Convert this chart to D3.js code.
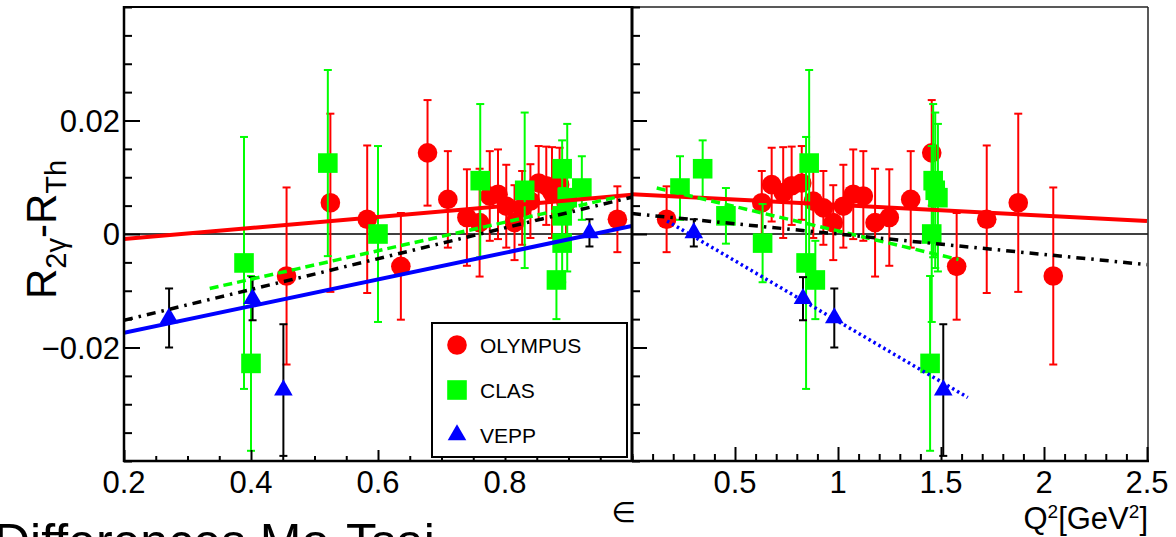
<!DOCTYPE html>
<html><head><meta charset="utf-8">
<script src="https://cdn.jsdelivr.net/npm/d3@7"></script>
<style>
html,body{margin:0;padding:0;background:#fff;overflow:hidden;}
svg{display:block;font-family:"Liberation Sans",Arial,Helvetica,sans-serif;}
</style></head><body>
<svg id="chart" width="1176" height="537"></svg>
<script>
// OLYMPUS: each bin shown against epsilon (left) and Q^2 (right)
const olyEps = [0.977, 0.896, 0.886, 0.874, 0.865, 0.853, 0.840, 0.827, 0.815, 0.802, 0.789, 0.776, 0.760, 0.740, 0.710, 0.678, 0.636, 0.583, 0.525, 0.456];
const olyQ2  = [0.168, 0.630, 0.678, 0.734, 0.775, 0.824, 0.880, 0.929, 0.977, 1.026, 1.074, 1.123, 1.180, 1.249, 1.353, 1.455, 1.576, 1.722, 1.875, 2.045];
const olyVal = [0.0026, 0.0055, 0.0087, 0.0073, 0.0085, 0.0090, 0.0058, 0.0046, 0.0020, 0.0049, 0.0070, 0.0067, 0.0020, 0.0029, 0.0061, 0.0143, -0.0057, 0.0026, 0.0055, -0.0074];
const olyErr = [0.0058, 0.0056, 0.0065, 0.0080, 0.0069, 0.0065, 0.0065, 0.0065, 0.0066, 0.0073, 0.0079, 0.0079, 0.0095, 0.0085, 0.0085, 0.0093, 0.0094, 0.0130, 0.0157, 0.0156];

// CLAS
const clasEps = [0.389, 0.400, 0.521, 0.600, 0.761, 0.831, 0.890, 0.898, 0.921, 0.890, 0.890, 0.881];
const clasQ2  = [0.845, 1.447, 0.860, 1.455, 1.462, 1.472, 0.343, 1.485, 0.233, 0.456, 0.634, 0.890];
const clasVal = [-0.0051, -0.0228, 0.0125, 0.0000, 0.0094, 0.0077, 0.0115, 0.0064, 0.0081, 0.0032, -0.0016, -0.0081];
const clasErr = [0.0222, 0.0154, 0.0164, 0.0155, 0.0135, 0.0137, 0.0050, 0.0130, 0.0056, 0.0049, 0.0069, 0.0069];

// VEPP-3
const veppEps = [0.271, 0.4025, 0.451, 0.933];
const veppQ2  = [0.982, 0.830, 1.511, 0.300];
const veppVal = [-0.0148, -0.0114, -0.0275, 0.0002];
const veppErr = [0.0052, 0.0038, 0.0116, 0.0024];

// Linear fits: [x0, y0, x1, y1]
const fitEpsOly  = [0.2, -0.0009, 1.0, 0.0069];
const fitEpsVepp = [0.2, -0.0174, 1.0, 0.0014];
const fitEpsAll  = [0.2, -0.0152, 1.0, 0.0065];
const fitEpsClas = [0.335, -0.0096, 0.98, 0.0066];
const fitQ2Oly   = [0.0, 0.0070, 2.5, 0.0023];
const fitQ2All   = [0.0, 0.0036, 2.5, -0.0054];
const fitQ2Clas  = [0.12, 0.0081, 1.585, -0.0045];
const fitQ2Vepp  = [0.17, 0.0023, 1.63, -0.0288];

// Axis ticks
const yMajor = [-0.02, 0, 0.02];
const yTickLabels = ["\u22120.02", "0", "0.02"];
const epsMajor = [0.2, 0.4, 0.6, 0.8];
const epsLabels = ["0.2", "0.4", "0.6", "0.8"];
const q2Major = [0.5, 1, 1.5, 2, 2.5];
const q2Labels = ["0.5", "1", "1.5", "2", "2.5"];

const legendNames = ["OLYMPUS", "CLAS", "VEPP"];

const RED = "#ff0000", GREEN = "#00ff00", BLUE = "#0000ff";

const svg = d3.select("#chart");
const yTop = 7, yBot = 461;
const xL = d3.scaleLinear().domain([0.2, 1.0]).range([124, 632]);
const xR = d3.scaleLinear().domain([0, 2.5]).range([632, 1147]);
const y = d3.scaleLinear().domain([-0.04, 0.04]).range([yBot, yTop]);

const defs = svg.append("defs");
defs.append("clipPath").attr("id", "clipL").append("rect")
  .attr("x", 124).attr("y", yTop).attr("width", 632 - 124).attr("height", yBot - yTop);
defs.append("clipPath").attr("id", "clipR").append("rect")
  .attr("x", 632).attr("y", yTop).attr("width", 1148 - 632).attr("height", yBot - yTop);

// zero line across both panels
svg.append("line").attr("x1", 124).attr("x2", 1148).attr("y1", y(0)).attr("y2", y(0))
  .attr("stroke", "#000").attr("stroke-width", 1.5);

function rows(xs, vs, es) { return xs.map((x, i) => ({x, v: vs[i], e: es[i]})); }

function marker(g, cx, cy, shape) {
  if (shape === "circle") g.append("circle").attr("cx", cx).attr("cy", cy).attr("r", 9.8);
  else if (shape === "square") g.append("rect").attr("x", cx - 9.8).attr("y", cy - 9.8).attr("width", 19.6).attr("height", 19.6);
  else g.append("path").attr("transform", `translate(${cx},${cy})`).attr("d", d3.symbol(d3.symbolTriangle, 150)());
}

function drawSeries(g, xs, data, color, barColor, shape) {
  const eb = g.append("g").attr("stroke", barColor).attr("stroke-width", 2);
  data.forEach(d => {
    const cx = xs(d.x);
    eb.append("line").attr("x1", cx).attr("x2", cx).attr("y1", y(d.v + d.e)).attr("y2", y(d.v - d.e));
    [d.v + d.e, d.v - d.e].forEach(t => eb.append("line")
      .attr("x1", cx - 4).attr("x2", cx + 4).attr("y1", y(t)).attr("y2", y(t)));
  });
  const mg = g.append("g").attr("fill", color);
  data.forEach(d => marker(mg, xs(d.x), y(d.v), shape));
}

function fitLine(g, xs, f, color, dash, w) {
  g.append("line").attr("x1", xs(f[0])).attr("y1", y(f[1])).attr("x2", xs(f[2])).attr("y2", y(f[3]))
    .attr("stroke", color).attr("stroke-width", w).attr("stroke-dasharray", dash);
}

// left panel: versus epsilon
const gL = svg.append("g").attr("clip-path", "url(#clipL)");
drawSeries(gL, xL, rows(olyEps, olyVal, olyErr), RED, RED, "circle");
drawSeries(gL, xL, rows(clasEps, clasVal, clasErr), GREEN, GREEN, "square");
drawSeries(gL, xL, rows(veppEps, veppVal, veppErr), BLUE, "#000", "triangle");
fitLine(gL, xL, fitEpsOly, RED, null, 4);
fitLine(gL, xL, fitEpsVepp, BLUE, null, 4);
fitLine(gL, xL, fitEpsClas, GREEN, "9,5", 3.5);
fitLine(gL, xL, fitEpsAll, "#000", "9,6,2.5,6", 3.5);

// right panel: versus Q^2
const gR = svg.append("g").attr("clip-path", "url(#clipR)");
drawSeries(gR, xR, rows(olyQ2, olyVal, olyErr), RED, RED, "circle");
drawSeries(gR, xR, rows(clasQ2, clasVal, clasErr), GREEN, GREEN, "square");
drawSeries(gR, xR, rows(veppQ2, veppVal, veppErr), BLUE, "#000", "triangle");
fitLine(gR, xR, fitQ2Oly, RED, null, 4);
fitLine(gR, xR, fitQ2Clas, GREEN, "9,5", 3.5);
fitLine(gR, xR, fitQ2All, "#000", "9,6,2.5,6", 3.5);
fitLine(gR, xR, fitQ2Vepp, BLUE, "2.5,3.2", 3.5);

// frames
svg.append("line").attr("x1", 124).attr("x2", 632).attr("y1", yTop).attr("y2", yTop).attr("stroke", "#000").attr("stroke-width", 2);
svg.append("line").attr("x1", 632).attr("x2", 1148).attr("y1", yTop).attr("y2", yTop).attr("stroke", "#222").attr("stroke-width", 1.3);
svg.append("line").attr("x1", 1148).attr("x2", 1148).attr("y1", yTop).attr("y2", yBot).attr("stroke", "#222").attr("stroke-width", 1.5);
svg.append("line").attr("x1", 632).attr("x2", 632).attr("y1", yTop - 1).attr("y2", yBot + 1).attr("stroke", "#000").attr("stroke-width", 3);

// left y axis
const yMinor = d3.range(-0.04, 0.0401, 0.005);
const isMajor = (arr, d) => arr.some(m => Math.abs(m - d) < 1e-9);
svg.append("g").attr("transform", "translate(124,0)")
  .call(d3.axisRight(y).tickValues(yMinor).tickSize(8).tickFormat(""))
  .call(g => g.selectAll(".tick line").attr("stroke-width", 2).filter(d => isMajor(yMajor, d)).attr("x2", 16))
  .call(g => g.select(".domain").attr("stroke-width", 2.5).attr("d", `M0,${yTop - 1}V${yBot + 1}`));
svg.append("g").selectAll("text").data(yMajor).join("text")
  .attr("x", 120).attr("y", d => y(d)).attr("dy", "0.36em").attr("text-anchor", "end")
  .attr("font-size", 31).text((d, i) => yTickLabels[i]);

// right panel y axis (no labels)
svg.append("g").attr("transform", "translate(632,0)")
  .call(d3.axisRight(y).tickValues(yMinor).tickSize(8).tickFormat(""))
  .call(g => g.selectAll(".tick line").attr("stroke-width", 2).filter(d => isMajor(yMajor, d)).attr("x2", 15))
  .call(g => g.select(".domain").remove());

// bottom axes
const epsMinor = d3.range(0.2, 1.0001, 0.05);
svg.append("g").attr("transform", `translate(0,${yBot})`)
  .call(d3.axisTop(xL).tickValues(epsMinor).tickSize(5).tickFormat(""))
  .call(g => g.selectAll(".tick line").attr("stroke-width", 2).filter(d => isMajor(epsMajor, d)).attr("y2", -11))
  .call(g => g.select(".domain").attr("stroke-width", 2.5).attr("d", "M123,0H632"));
svg.append("g").selectAll("text").data(epsMajor).join("text")
  .attr("x", d => xL(d)).attr("y", 493).attr("text-anchor", "middle")
  .attr("font-size", 31).text((d, i) => epsLabels[i]);

const q2Minor = d3.range(0, 2.5001, 0.1);
svg.append("g").attr("transform", `translate(0,${yBot})`)
  .call(d3.axisTop(xR).tickValues(q2Minor).tickSize(7).tickFormat(""))
  .call(g => g.selectAll(".tick line").attr("stroke-width", 2).filter(d => isMajor(q2Major, d)).attr("y2", -14))
  .call(g => g.select(".domain").attr("stroke-width", 2.5).attr("d", "M632,0H1149"));
svg.append("g").selectAll("text").data(q2Major).join("text")
  .attr("x", d => xR(d)).attr("y", 493).attr("text-anchor", "middle")
  .attr("font-size", 31).text((d, i) => q2Labels[i]);

// axis titles
svg.append("text").attr("x", 636).attr("y", 522).attr("text-anchor", "end")
  .attr("font-family", "DejaVu Sans").attr("font-size", 28).text("\u2208");
const q2t = svg.append("text").attr("x", 1148).attr("y", 529).attr("text-anchor", "end").attr("font-size", 31);
q2t.append("tspan").text("Q");
q2t.append("tspan").attr("dy", -11).attr("font-size", 19).text("2");
q2t.append("tspan").attr("dy", 11).text("[GeV");
q2t.append("tspan").attr("dy", -11).attr("font-size", 19).text("2");
q2t.append("tspan").attr("dy", 11).text("]");

const yt = svg.append("text").attr("transform", "translate(56,299) rotate(-90)").attr("font-size", 42);
yt.append("tspan").text("R");
yt.append("tspan").attr("dy", 10).attr("font-size", 29).text("2\u03b3");
yt.append("tspan").attr("dy", -10).text("-R");
yt.append("tspan").attr("dy", 10).attr("font-size", 29).text("Th");

// legend
const lg = svg.append("g");
lg.append("rect").attr("x", 432).attr("y", 323).attr("width", 195).attr("height", 134)
  .attr("fill", "#fff").attr("stroke", "#000").attr("stroke-width", 2);
const legColors = [RED, GREEN, BLUE], legShapes = ["circle", "square", "triangle"];
legendNames.forEach((n, i) => {
  const cy = 345 + i * 45;
  marker(lg.append("g").attr("fill", legColors[i]), 457, cy, legShapes[i]);
  lg.append("text").attr("x", 480).attr("y", cy).attr("dy", "0.36em").attr("font-size", 21).text(n);
});

// caption below the figure
svg.append("text").attr("x", -6).attr("y", 559).attr("font-size", 50).text("Differences Mo-Tsai");
</script>
</body></html>
